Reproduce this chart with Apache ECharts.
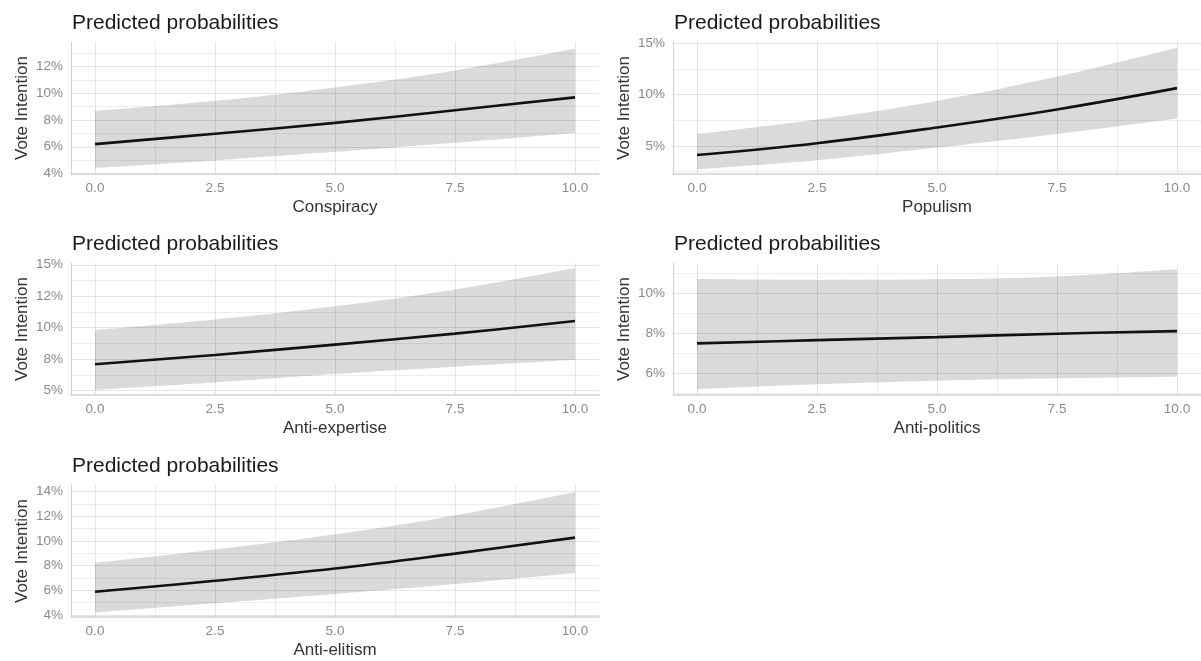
<!DOCTYPE html>
<html><head><meta charset="utf-8">
<script src="https://cdn.jsdelivr.net/npm/echarts@6/dist/echarts.min.js"></script>
<style>html,body{margin:0;padding:0;background:#fff}#c{width:1201px;height:661px}</style>
</head><body><div id="c"></div>
<script>
// ---- data ----
const xValues = [0, 2.5, 5, 7.5, 10];
const xTicks = [0, 2.5, 5, 7.5, 10];
const xMinorTicks = [1.25, 3.75, 6.25, 8.75];
const xTickLabels = ['0.0', '2.5', '5.0', '7.5', '10.0'];

const panelNames = ['Conspiracy', 'Populism', 'Anti-expertise', 'Anti-politics', 'Anti-elitism'];

const conspiracyFit   = [6.20, 6.98, 7.79, 8.74, 9.70];
const conspiracyLower = [4.42, 4.98, 5.62, 6.30, 7.03];
const conspiracyUpper = [8.69, 9.45, 10.45, 11.72, 13.34];

const populismFit   = [4.11, 5.26, 6.80, 8.56, 10.64];
const populismLower = [2.72, 3.60, 4.83, 6.16, 7.67];
const populismUpper = [6.16, 7.57, 9.39, 11.77, 14.60];

const antiExpertiseFit   = [7.10, 7.84, 8.66, 9.53, 10.53];
const antiExpertiseLower = [5.08, 5.66, 6.32, 6.90, 7.45];
const antiExpertiseUpper = [9.82, 10.66, 11.70, 13.03, 14.74];

const antiPoliticsFit   = [7.49, 7.65, 7.80, 7.97, 8.10];
const antiPoliticsLower = [5.21, 5.45, 5.63, 5.75, 5.83];
const antiPoliticsUpper = [10.69, 10.65, 10.68, 10.82, 11.18];

const antiElitismFit   = [5.88, 6.77, 7.76, 8.97, 10.26];
const antiElitismLower = [4.20, 4.95, 5.70, 6.50, 7.40];
const antiElitismUpper = [8.22, 9.30, 10.53, 12.06, 13.95];

const conspiracyYTicks = [4, 6, 8, 10, 12];
const conspiracyYLabels = ['4%', '6%', '8%', '10%', '12%'];
const conspiracyYMinor = [5, 7, 9, 11, 13];

const populismYTicks = [5, 10, 15];
const populismYLabels = ['5%', '10%', '15%'];
const populismYMinor = [2.5, 7.5, 12.5];

const antiExpertiseYTicks = [5, 7.5, 10, 12.5, 15];
const antiExpertiseYLabels = ['5%', '8%', '10%', '12%', '15%'];
const antiExpertiseYMinor = [6.25, 8.75, 11.25, 13.75];

const antiPoliticsYTicks = [6, 8, 10];
const antiPoliticsYLabels = ['6%', '8%', '10%'];
const antiPoliticsYMinor = [5, 7, 9, 11];

const antiElitismYTicks = [4, 6, 8, 10, 12, 14];
const antiElitismYLabels = ['4%', '6%', '8%', '10%', '12%', '14%'];
const antiElitismYMinor = [5, 7, 9, 11, 13];

// ---- panel assembly ----
const panels = [
  {fit: conspiracyFit, lower: conspiracyLower, upper: conspiracyUpper, yt: conspiracyYTicks, yl: conspiracyYLabels, ym: conspiracyYMinor},
  {fit: populismFit, lower: populismLower, upper: populismUpper, yt: populismYTicks, yl: populismYLabels, ym: populismYMinor},
  {fit: antiExpertiseFit, lower: antiExpertiseLower, upper: antiExpertiseUpper, yt: antiExpertiseYTicks, yl: antiExpertiseYLabels, ym: antiExpertiseYMinor},
  {fit: antiPoliticsFit, lower: antiPoliticsLower, upper: antiPoliticsUpper, yt: antiPoliticsYTicks, yl: antiPoliticsYLabels, ym: antiPoliticsYMinor},
  {fit: antiElitismFit, lower: antiElitismLower, upper: antiElitismUpper, yt: antiElitismYTicks, yl: antiElitismYLabels, ym: antiElitismYMinor}
];
// layout (pixels) and axis ranges
const layout = [
  {left: 71,  top: 42,  yMin: 3.96, yMax: 13.85},
  {left: 673, top: 42,  yMin: 2.25, yMax: 15.15},
  {left: 71,  top: 263, yMin: 4.66, yMax: 15.14},
  {left: 673, top: 263, yMin: 4.92, yMax: 11.49},
  {left: 71,  top: 485, yMin: 3.84, yMax: 14.52}
];

const FONT = "'Liberation Sans', Arial, Helvetica, sans-serif";
const MAJOR = 'rgba(0,0,0,0.10)', MINOR = 'rgba(0,0,0,0.065)', AXIS = '#d2d2d2';
const BAND = '#dadada';
const option = {
  animation: false,
  backgroundColor: '#ffffff',
  textStyle: {fontFamily: FONT},
  title: [], grid: [], xAxis: [], yAxis: [], series: []
};

panels.forEach((p, i) => {
  const L = layout[i];
  option.title.push({
    text: 'Predicted probabilities', left: L.left + 1, top: L.top - 29, padding: 0,
    textStyle: {fontFamily: FONT, fontSize: 21, fontWeight: 'normal', color: '#1a1a1a'}
  });
  option.grid.push({left: L.left, top: L.top, width: 528, height: 132, containLabel: false});
  // major x axis
  option.xAxis.push({
    type: 'value', gridIndex: i, min: -0.5, max: 10.5, z: 3,
    name: panelNames[i], nameLocation: 'middle', nameGap: 25,
    nameTextStyle: {fontFamily: FONT, fontSize: 17, color: '#333'},
    axisLine: {show: true, onZero: false, lineStyle: {color: AXIS, width: 1.5}},
    axisTick: {show: false, customValues: xTicks},
    axisLabel: {customValues: xTicks, margin: 7, fontSize: 13.5, color: '#8a8a8a', fontFamily: FONT,
      formatter: v => xTickLabels[xTicks.findIndex(t => Math.abs(t - v) < 1e-6)]},
    splitLine: {show: true, lineStyle: {color: MAJOR, width: 1}}
  });
  // minor x axis
  option.xAxis.push({
    type: 'value', gridIndex: i, min: -0.5, max: 10.5, position: 'top', z: 3,
    axisLine: {show: false}, axisLabel: {show: false},
    axisTick: {show: false, customValues: xMinorTicks},
    splitLine: {show: true, lineStyle: {color: MINOR, width: 1}}
  });
  // major y axis
  option.yAxis.push({
    type: 'value', gridIndex: i, min: L.yMin, max: L.yMax, z: 3,
    name: 'Vote Intention', nameLocation: 'middle', nameGap: 40,
    nameTextStyle: {fontFamily: FONT, fontSize: 17, color: '#333'},
    axisLine: {show: true, onZero: false, lineStyle: {color: AXIS, width: 1}},
    axisTick: {show: false, customValues: p.yt},
    axisLabel: {customValues: p.yt, margin: 8, fontSize: 13.5, color: '#8a8a8a', fontFamily: FONT,
      formatter: v => p.yl[p.yt.findIndex(t => Math.abs(t - v) < 1e-6)]},
    splitLine: {show: true, lineStyle: {color: MAJOR, width: 1}}
  });
  // minor y axis
  option.yAxis.push({
    type: 'value', gridIndex: i, min: L.yMin, max: L.yMax, position: 'right', z: 3,
    axisLine: {show: false}, axisLabel: {show: false},
    axisTick: {show: false, customValues: p.ym},
    splitLine: {show: true, lineStyle: {color: MINOR, width: 1}}
  });
  const xa = i * 2, ya = i * 2;
  // confidence band: upper area (grey) then lower area (white) masks below lower bound
  option.series.push({
    type: 'line', xAxisIndex: xa, yAxisIndex: ya,
    data: xValues.map((x, j) => [x, p.upper[j]]),
    smooth: 0.4, symbol: 'none', lineStyle: {width: 0, opacity: 0},
    areaStyle: {color: BAND, opacity: 1, origin: 'start'}, silent: true, z: 1
  });
  option.series.push({
    type: 'line', xAxisIndex: xa, yAxisIndex: ya,
    data: xValues.map((x, j) => [x, p.lower[j]]),
    smooth: 0.4, symbol: 'none', lineStyle: {width: 0, opacity: 0},
    areaStyle: {color: '#ffffff', opacity: 1, origin: 'start'}, silent: true, z: 2
  });
  option.series.push({
    type: 'line', xAxisIndex: xa, yAxisIndex: ya,
    data: xValues.map((x, j) => [x, p.fit[j]]),
    smooth: 0.4, symbol: 'none', lineStyle: {color: '#111', width: 2.6}, z: 5
  });
});

const chart = echarts.init(document.getElementById('c'), null, {renderer: 'canvas'});
chart.setOption(option);
</script></body></html>
